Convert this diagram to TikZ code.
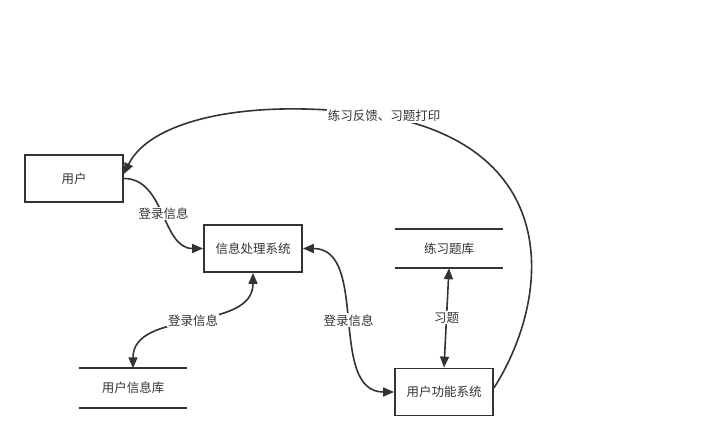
\documentclass[tikz,border=0pt]{standalone}
\usepackage{fontspec}
\setmainfont{Noto Sans CJK SC}
\usetikzlibrary{arrows.meta}

\begin{document}
\begin{tikzpicture}[
                    x=1pt, y=-1pt,
                    every node/.style={font=\fontsize{12.5}{15}\selectfont, text=black!80},
                    process/.style={draw=black!80, line width=1.8pt, rectangle, minimum width=98pt, minimum height=47pt},
                    store/.style={minimum width=108pt, minimum height=39pt},
                    storeline/.style={draw=black!80, line width=1.8pt},
                    flow/.style={draw=black!80, line width=1.6pt, -{Triangle[length=11pt,width=9pt]}},
                    dflow/.style={draw=black!80, line width=1.6pt, {Triangle[length=11pt,width=9pt]}-{Triangle[length=11pt,width=9pt]}},
                    lbl/.style={fill=white, inner sep=1pt}
                ]

                \useasboundingbox (0,0) rectangle (705,441);

                % 节点
                \node[process] (user) at (74,178.5) {用户};
                \node[process] (info) at (253,248.5) {信息处理系统};
                \node[process] (func) at (444,392) {用户功能系统};
                \node[store] (ustore) at (133,388) {用户信息库};
                \node[store] (qstore) at (449,248.5) {练习题库};
                \draw[storeline] (ustore.north west) -- (ustore.north east) (ustore.south west) -- (ustore.south east);
                \draw[storeline] (qstore.north west) -- (qstore.north east) (qstore.south west) -- (qstore.south east);

                % 数据流
                \coordinate (fb) at (384,116);
                \draw[flow] (func.east |- 0,388) .. controls (550,300) and (565,150) .. (fb)
                    .. controls (250,96) and (150,120) .. (user.north east |- 0,174);
                \node[lbl] (fblbl) at (fb) {练习反馈、习题打印};

                \draw[flow] (user.east) to[out=0, in=180] node[lbl] {登录信息} (info.west);
                \draw[dflow] (info.south) to[out=-90, in=90] node[lbl] {登录信息} (ustore.north);
                \draw[dflow] (info.east) to[out=0, in=180] node[lbl] {登录信息} (func.west);
                \draw[dflow] (qstore.south) -- node[lbl] {习题} (func.north);

\end{tikzpicture}
\end{document}
